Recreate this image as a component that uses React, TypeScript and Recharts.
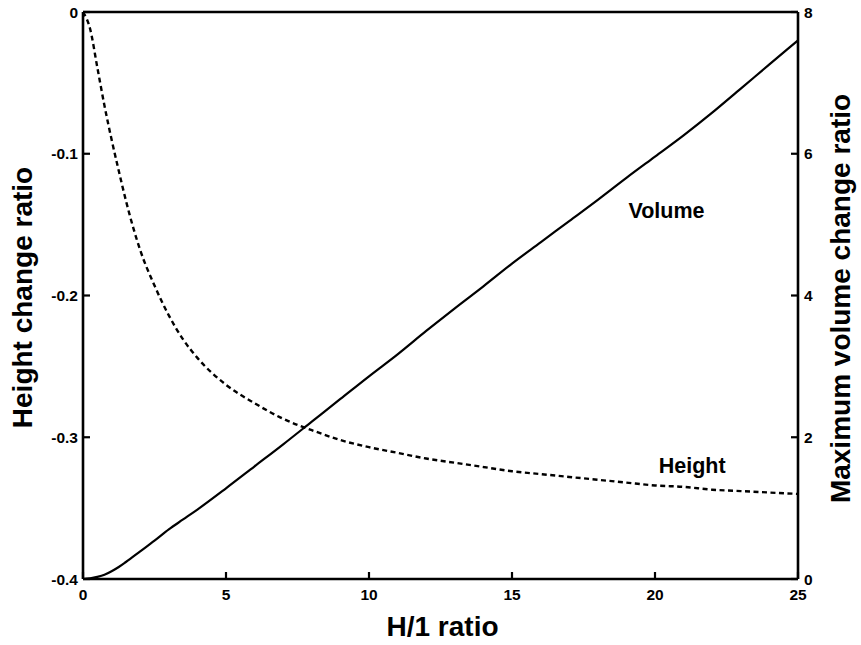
import React from "react";
import {
  LineChart,
  Line,
  XAxis,
  YAxis,
  ReferenceLine,
  ReferenceDot,
} from "recharts";

// H/1 ratio sample points (shared by both curves)
const ratio = [
  0, 0.25, 0.5, 0.75, 1, 1.25, 1.5, 2, 2.5, 3, 3.5, 4, 5, 6, 7, 8, 9, 10, 11,
  12, 13, 14, 15, 16, 17, 18, 19, 20, 21, 22, 23, 24, 25,
];

// height change ratio (left axis, dashed)
const heightChange = [
  0, -0.012, -0.039, -0.066, -0.09, -0.112, -0.133, -0.168, -0.193, -0.214,
  -0.231, -0.244, -0.263, -0.276, -0.287, -0.295, -0.302, -0.307, -0.311,
  -0.315, -0.318, -0.321, -0.324, -0.326, -0.328, -0.33, -0.332, -0.334,
  -0.335, -0.337, -0.338, -0.339, -0.34,
];

// maximum volume change ratio (right axis, solid)
const volumeChange = [
  0, 0.01, 0.03, 0.06, 0.11, 0.17, 0.24, 0.39, 0.54, 0.7, 0.84, 0.98, 1.28,
  1.59, 1.9, 2.22, 2.54, 2.86, 3.17, 3.5, 3.82, 4.13, 4.45, 4.75, 5.05, 5.35,
  5.66, 5.96, 6.26, 6.58, 6.92, 7.26, 7.6,
];

const xTicks = [0, 5, 10, 15, 20, 25];
const heightTicks = [-0.4, -0.3, -0.2, -0.1, 0];
const volumeTicks = [0, 2, 4, 6, 8];

const data = ratio.map((h, i) => ({
  h,
  height: heightChange[i],
  volume: volumeChange[i],
}));

const FONT = '"Liberation Sans", Arial, Helvetica, sans-serif';
const TICK_FONT = 15.5;

// plot frame edges (from the chart margins / axis sizes below)
const W = 861;
const H = 645;
const LEFT_W = 83;
const RIGHT_W = 63;
const TOP = 12;
const X_AXIS_H = 66;
const PLOT_LEFT = LEFT_W;
const PLOT_RIGHT = W - RIGHT_W;
const PLOT_BOTTOM = H - X_AXIS_H;

// ticks point inward, labels sit outside the frame
function LeftTick({ y, payload }: any) {
  const x = PLOT_LEFT;
  return (
    <g>
      <line x1={x} y1={y} x2={x + 7} y2={y} stroke="#000" strokeWidth={2.2} />
      <text
        x={x - 5}
        y={y + 5.5}
        textAnchor="end"
        fontSize={TICK_FONT}
        fontWeight="bold"
        fontFamily={FONT}
        fill="#000"
      >
        {payload.value}
      </text>
    </g>
  );
}

function RightTick({ y, payload }: any) {
  const x = PLOT_RIGHT;
  return (
    <g>
      <line x1={x} y1={y} x2={x - 7} y2={y} stroke="#000" strokeWidth={2.2} />
      <text
        x={x + 6}
        y={y + 5.5}
        textAnchor="start"
        fontSize={TICK_FONT}
        fontWeight="bold"
        fontFamily={FONT}
        fill="#000"
      >
        {payload.value}
      </text>
    </g>
  );
}

function BottomTick({ x, payload }: any) {
  const y = PLOT_BOTTOM;
  return (
    <g>
      <line x1={x} y1={y} x2={x} y2={y - 7} stroke="#000" strokeWidth={2.2} />
      <text
        x={x}
        y={y + 21}
        textAnchor="middle"
        fontSize={TICK_FONT}
        fontWeight="bold"
        fontFamily={FONT}
        fill="#000"
      >
        {payload.value}
      </text>
    </g>
  );
}

const titleStyle = {
  fontSize: 28,
  fontWeight: "bold" as const,
  fontFamily: FONT,
  fill: "#000",
};

function LeftTitle() {
  const cx = 22.5;
  const cy = (TOP + PLOT_BOTTOM) / 2 + 2;
  return (
    <text
      x={cx}
      y={cy}
      textAnchor="middle"
      dominantBaseline="central"
      transform={`rotate(-90 ${cx} ${cy})`}
      {...titleStyle}
    >
      Height change ratio
    </text>
  );
}

function RightTitle() {
  const cx = PLOT_RIGHT + 42.5;
  const cy = (TOP + PLOT_BOTTOM) / 2 + 3;
  return (
    <text
      x={cx}
      y={cy}
      textAnchor="middle"
      dominantBaseline="central"
      transform={`rotate(-90 ${cx} ${cy})`}
      {...titleStyle}
    >
      Maximum volume change ratio
    </text>
  );
}

function BottomTitle() {
  const cx = (PLOT_LEFT + PLOT_RIGHT) / 2 + 2;
  const cy = PLOT_BOTTOM + 47;
  return (
    <text
      x={cx}
      y={cy}
      textAnchor="middle"
      dominantBaseline="central"
      {...titleStyle}
    >
      H/1 ratio
    </text>
  );
}

const curveLabel = {
  position: "center" as const,
  fontSize: 21.5,
  fontWeight: "bold",
  fontFamily: FONT,
  fill: "#000",
};

export default function App() {
  return (
    <div style={{ position: "absolute", left: 0, top: 0, background: "#fff" }}>
      <LineChart
        width={W}
        height={H}
        data={data}
        margin={{ top: TOP, right: 0, bottom: 0, left: 0 }}
      >
        <XAxis
          dataKey="h"
          type="number"
          domain={[0, 25]}
          ticks={xTicks}
          interval={0}
          height={X_AXIS_H}
          tickLine={false}
          axisLine={{ stroke: "#000", strokeWidth: 2.6 }}
          tick={(p: any) => <BottomTick {...p} />}
          label={{ content: () => <BottomTitle /> }}
        />
        <YAxis
          yAxisId="left"
          orientation="left"
          type="number"
          domain={[-0.4, 0]}
          ticks={heightTicks}
          interval={0}
          width={LEFT_W}
          tickLine={false}
          axisLine={{ stroke: "#000", strokeWidth: 2.6 }}
          tick={(p: any) => <LeftTick {...p} />}
          label={{ content: () => <LeftTitle /> }}
        />
        <YAxis
          yAxisId="right"
          orientation="right"
          type="number"
          domain={[0, 8]}
          ticks={volumeTicks}
          interval={0}
          width={RIGHT_W}
          tickLine={false}
          axisLine={{ stroke: "#000", strokeWidth: 2.6 }}
          tick={(p: any) => <RightTick {...p} />}
          label={{ content: () => <RightTitle /> }}
        />
        <ReferenceLine yAxisId="left" y={0} stroke="#000" strokeWidth={2.6} />
        <Line
          yAxisId="left"
          dataKey="height"
          type="monotone"
          stroke="#000"
          strokeWidth={2.4}
          strokeDasharray="5 3.5"
          dot={false}
          activeDot={false}
          isAnimationActive={false}
        />
        <Line
          yAxisId="right"
          dataKey="volume"
          type="monotone"
          stroke="#000"
          strokeWidth={2.2}
          dot={false}
          activeDot={false}
          isAnimationActive={false}
        />
        <ReferenceDot
          yAxisId="right"
          x={20.4}
          y={5.2}
          r={1}
          fill="none"
          stroke="none"
          label={{ value: "Volume", ...curveLabel }}
        />
        <ReferenceDot
          yAxisId="left"
          x={21.3}
          y={-0.3196}
          r={1}
          fill="none"
          stroke="none"
          label={{ value: "Height", ...curveLabel }}
        />
      </LineChart>
    </div>
  );
}
